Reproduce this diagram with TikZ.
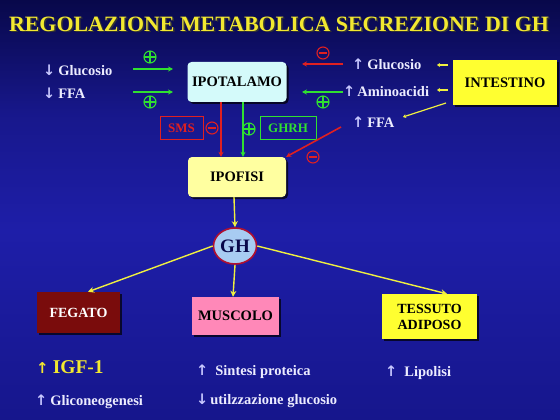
\documentclass[tikz,border=0pt]{standalone}
\usepackage{fontspec}
\setmainfont{Liberation Serif}
\newfontfamily\arrowfont{DejaVu Sans}
\usetikzlibrary{shapes.geometric,shadows,arrows.meta}
\definecolor{bgtop}{HTML}{08084A}
\definecolor{bgmid}{HTML}{1E1EA8}
\definecolor{bgbot}{HTML}{16168C}
\definecolor{titley}{HTML}{F2E830}
\definecolor{wtext}{HTML}{ECECFF}
\definecolor{arrw}{HTML}{C8C8FF}
\definecolor{grn}{HTML}{30E030}
\definecolor{rd}{HTML}{E02020}
\definecolor{ylw}{HTML}{F0F040}
\definecolor{ipot}{HTML}{D4FAFA}
\definecolor{ipof}{HTML}{FFFFA0}
\definecolor{intest}{HTML}{FFFF30}
\definecolor{feg}{HTML}{7A0C0C}
\definecolor{musc}{HTML}{FF88B8}
\definecolor{ghfill}{HTML}{A8CCF2}
\definecolor{ghbord}{HTML}{B01030}
\newcommand{\ua}{{\arrowfont\color{arrw}\char"2191}}
\newcommand{\da}{{\arrowfont\color{arrw}\char"2193}}
\newcommand{\shadowtext}[1]{\rlap{\hspace{1.5pt}\raisebox{-1.5pt}{\color{black!80}#1}}#1}
\tikzset{
  sh/.style={drop shadow={fill=black,opacity=0.7,shadow xshift=2pt,shadow yshift=-2pt}},
  organ/.style={font=\bfseries\fontsize{14.5}{16}\selectfont, align=center, inner sep=1pt},
  lbl/.style={text=wtext, font=\bfseries\fontsize{14.5}{16}\selectfont, anchor=west, inner sep=0pt},
  garr/.style={grn, line width=1.6pt, -{Stealth[length=5pt,width=5pt]}},
  rarr/.style={rd, line width=1.6pt, -{Stealth[length=5pt,width=5pt]}},
  yarr/.style={ylw, line width=1.4pt, -{Stealth[length=6pt,width=6pt]}},
  ysmall/.style={ylw, line width=1.2pt, -{Stealth[length=3pt,width=4pt]}},
  tag/.style={line width=1pt, inner sep=0pt, font=\bfseries\fontsize{13}{14}\selectfont},
  plusc/.style={circle, draw=grn, line width=1.1pt, minimum size=12pt, inner sep=0pt,
    path picture={\draw[grn,line width=1.1pt] (path picture bounding box.north) -- (path picture bounding box.south) (path picture bounding box.west) -- (path picture bounding box.east);}},
  minusc/.style={circle, draw=rd, line width=1.1pt, minimum size=12pt, inner sep=0pt,
    path picture={\draw[rd,line width=1.4pt] ([xshift=2pt]path picture bounding box.west) -- ([xshift=-2pt]path picture bounding box.east);}},
}
\begin{document}
\begin{tikzpicture}[x=1pt,y=-1pt]
\useasboundingbox (0,0) rectangle (560,420);
\shade[top color=bgtop, bottom color=bgmid, middle color=bgmid!70!bgtop] (0,0) rectangle (560,230);
\shade[top color=bgmid, bottom color=bgbot] (0,230) rectangle (560,420);

% title
\node[text=titley, font=\bfseries\fontsize{21.9}{24}\selectfont] (title) at (279,25) {\shadowtext{REGOLAZIONE METABOLICA SECREZIONE DI GH}};

% main boxes
\node[organ, sh, fill=ipot, rounded corners=4pt, minimum width=99pt, minimum height=40pt] (ipot) at (237,82) {IPOTALAMO};
\node[organ, sh, fill=ipof, rounded corners=4pt, minimum width=98pt, minimum height=40pt] (ipof) at (237,177) {IPOFISI};
\node[organ, sh, fill=intest, minimum width=104pt, minimum height=45pt] (intest) at (505,82.5) {INTESTINO};
\node[ellipse, draw=ghbord, line width=1.6pt, fill=ghfill, minimum width=43pt, minimum height=36pt, inner sep=0pt, font=\bfseries\fontsize{19}{20}\selectfont, text=bgtop] (gh) at (235,246) {GH};
\node[organ, sh, fill=feg, text=white, minimum width=83pt, minimum height=41pt, font=\bfseries\fontsize{14}{16}\selectfont] (feg) at (78.5,312.5) {FEGATO};
\node[organ, sh, fill=musc, text=black, minimum width=87pt, minimum height=38pt] (musc) at (235.5,316) {MUSCOLO};
\node[organ, sh, fill=intest, text=black, minimum width=95pt, minimum height=45pt, font=\bfseries\fontsize{14}{16}\selectfont] (tess) at (429.5,316.5) {TESSUTO\\ADIPOSO};

% left inputs
\node[lbl] (lglu) at (43,70) {\da\hspace{3pt}Glucosio};
\node[lbl] (lffa) at (43,93) {\da\hspace{3pt}FFA};
\coordinate (lg1) at (133,69); \coordinate (lg2) at (173,69);
\coordinate (lf1) at (133,92); \coordinate (lf2) at (173,92);
\draw[garr] (lg1) -- (lg2);
\draw[garr] (lf1) -- (lf2);
\node[plusc] (p1) at (150,57) {};
\node[plusc] (p2) at (150,102) {};

% right inputs
\node[lbl] (rglu) at (352,64) {\ua\hspace{3pt}Glucosio};
\node[lbl] (ramino) at (343,91) {\ua\hspace{2pt}Aminoacidi};
\node[lbl] (rffa) at (352,122) {\ua\hspace{3pt}FFA};
\coordinate (rg1) at (343,64); \coordinate (rg2) at (302,64);
\coordinate (ra1) at (343,92); \coordinate (ra2) at (302,92);
\draw[rarr] (rg1) -- (rg2);
\draw[garr] (ra1) -- (ra2);
\node[minusc] (m1) at (323,53) {};
\node[plusc] (p3) at (323,102) {};

% intestine to inputs
\coordinate (iy1) at (448,65); \coordinate (iy2) at (437,65);
\coordinate (iy3) at (448,90); \coordinate (iy4) at (437,90);
\draw[ysmall] (iy1) -- (iy2);
\draw[ysmall] (iy3) -- (iy4);
\coordinate (iy5) at (446,103); \coordinate (iy6) at (403,117);
\draw[ysmall] (iy5) -- (iy6);

% hypothalamus to pituitary
\draw[rarr] (ipot.south -| 221,0) -- (ipof.north -| 221,0);
\draw[garr] (ipot.south -| 243,0) -- (ipof.north -| 243,0);
\node[tag, draw=rd, text=rd, minimum width=43pt, minimum height=23pt] (sms) at (181.5,128) {SMS};
\node[minusc] (m2) at (212,128) {};
\node[plusc] (p4) at (249,129) {};
\node[tag, draw=grn, text=grn, minimum width=56pt, minimum height=23pt] (ghrh) at (288,128) {GHRH};

% FFA inhibits pituitary
\coordinate (ff1) at (341,127);
\draw[rarr] (ff1) -- (ipof.north east);
\node[minusc] (m3) at (313,157) {};

% pituitary to GH
\draw[yarr] (ipof.south -| 234,0) -- (gh.north);
% GH to targets
\draw[yarr] (gh.west) -- (feg.north -| 88,0);
\draw[yarr] (gh.south) -- (musc.north -| 233,0);
\draw[yarr] (gh.east) -- (tess.north -| 447,0);

% effects
\node[text=titley, font=\bfseries\fontsize{19.5}{21}\selectfont, anchor=west, inner sep=0pt] (igf) at (36,367) {{\arrowfont\color{titley}\fontsize{15}{16}\selectfont\char"2191}\hspace{4pt}IGF-1};
\node[lbl] (glic) at (35,402) {\ua\hspace{3pt}Gliconeogenesi};
\node[lbl] (sint) at (196,372) {\ua\hspace{7pt}Sintesi proteica};
\node[lbl] (util) at (196,401) {\da\hspace{2pt}utilzzazione glucosio};
\node[lbl] (lip) at (385,373) {\ua\hspace{7pt}Lipolisi};
\end{tikzpicture}
\end{document}
